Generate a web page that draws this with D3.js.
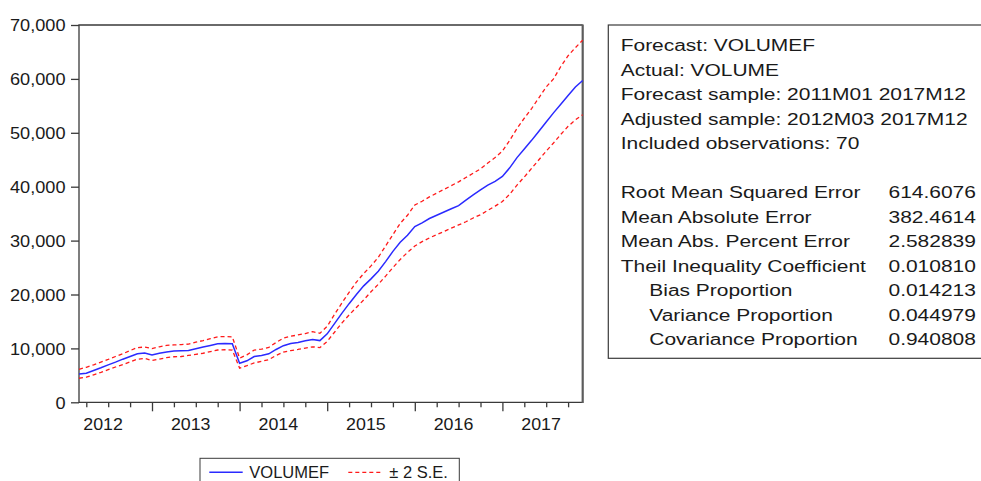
<!DOCTYPE html>
<html>
<head>
<meta charset="utf-8">
<script src="https://cdn.jsdelivr.net/npm/d3@7"></script>
<style>
  body { margin: 0; background: #fff; }
  svg { display: block; }
  text { font-family: "Liberation Sans", Arial, sans-serif; fill: #1a1a1a; }
</style>
</head>
<body>
<svg id="chart" width="981" height="481"></svg>
<script>
// Monthly forecast of VOLUME, 2012M03 .. 2017M12 (70 observations)
const forecast = [
  5250, 5400, 5900, 6400, 6950, 7450, 8000, 8500, 9000, 9150,
  8800, 9100, 9350, 9500, 9550, 9600, 9950, 10250, 10550, 10850, 10900, 10850,
  7250, 7700, 8500, 8700, 9000, 9800, 10500, 10900, 11100, 11400, 11650, 11450,
  12700, 14600, 16500, 18300, 20000, 21600, 22900, 24300, 26100, 28000, 29700, 31000,
  32600, 33300, 34100, 34700, 35300, 35900, 36500, 37500, 38500, 39400, 40300, 41000,
  41900, 43500, 45400, 47000, 48600, 50300, 52000, 53700, 55300, 56900, 58500, 59700
];
// Upper band (+2 S.E.)
const upper = [
  6130, 6500, 6950, 7450, 7950, 8500, 9000, 9600, 10150, 10250,
  9950, 10300, 10550, 10650, 10700, 10800, 11150, 11450, 11800, 12150, 12200, 12150,
  8200, 8800, 9700, 9850, 10200, 11100, 11900, 12250, 12500, 12750, 13100, 12800,
  14100, 16300, 18400, 20400, 22300, 23900, 25300, 26900, 29000, 31100, 33200, 34700,
  36600, 37300, 38100, 38800, 39500, 40200, 40900, 41700, 42500, 43300, 44400, 45400,
  46600, 48600, 50800, 52700, 54500, 56500, 58500, 60000, 62300, 64300, 65800, 67200
];
// Lower band (-2 S.E.)
const lower = [
  4460, 4650, 5100, 5550, 6050, 6550, 7000, 7500, 8000, 8150,
  7750, 8000, 8300, 8450, 8500, 8700, 8900, 9100, 9400, 9700, 9750, 9700,
  6350, 6800, 7300, 7600, 7900, 8700, 9300, 9600, 9800, 10050, 10300, 10150,
  11300, 13000, 14700, 16200, 17600, 19000, 20500, 21900, 23400, 25000, 26500, 27800,
  29000, 29800, 30500, 31100, 31700, 32300, 32900, 33500, 34200, 34800, 35600, 36400,
  37250, 38600, 40300, 41800, 43400, 45000, 46600, 48100, 49700, 51200, 52400, 53350
];

const yTicks = [0, 10000, 20000, 30000, 40000, 50000, 60000, 70000];
const years = [2012, 2013, 2014, 2015, 2016, 2017];
const legendLabels = ["VOLUMEF", "\u00B1 2 S.E."];

const headerLines = [
  "Forecast: VOLUMEF",
  "Actual: VOLUME",
  "Forecast sample: 2011M01 2017M12",
  "Adjusted sample: 2012M03 2017M12",
  "Included observations: 70"
];
const statNames = [
  "Root Mean Squared Error",
  "Mean Absolute Error",
  "Mean Abs. Percent Error",
  "Theil Inequality Coefficient",
  "Bias Proportion",
  "Variance Proportion",
  "Covariance Proportion"
];
const statValues = ["614.6076", "382.4614", "2.582839", "0.010810", "0.014213", "0.044979", "0.940808"];
const statIndented = [false, false, false, false, true, true, true];

// ---------------------------------------------------------------
const months = d3.timeMonth.range(new Date(2012, 2, 1), new Date(2018, 0, 1));
const svg = d3.select("#chart");
const plot = { left: 79, right: 582.7, top: 25, bottom: 402.3 };

const x = d3.scaleLinear().domain([0, months.length - 1]).range([plot.left, plot.right]);
const y = d3.scaleLinear().domain([0, 70000]).range([plot.bottom, plot.top]);

// Frame
svg.append("path")
  .attr("d", `M${plot.right},${plot.top}H${plot.left}V${plot.bottom}H${plot.right}`)
  .attr("fill", "none").attr("stroke", "#3a3a3a").attr("stroke-width", 1.3);
svg.append("line")
  .attr("x1", plot.right).attr("x2", plot.right)
  .attr("y1", plot.top - 0.6).attr("y2", plot.bottom + 0.6)
  .attr("stroke", "#5c5c5c").attr("stroke-width", 2.2);

// Y axis
const yAxis = svg.append("g")
  .attr("transform", `translate(${plot.left},0)`)
  .call(d3.axisLeft(y).tickValues(yTicks).tickSize(8).tickFormat(d3.format(",")));
yAxis.select(".domain").remove();
yAxis.selectAll(".tick line").attr("stroke", "#3a3a3a").attr("stroke-width", 1.3);
yAxis.selectAll(".tick text")
  .attr("x", null).attr("dy", null)
  .attr("text-anchor", "end")
  .attr("transform", "translate(-13.5,5.8) scale(1.1,1)")
  .style("font-size", "16.5px")
  .style("font-family", "'Liberation Sans', Arial, sans-serif")
  .attr("fill", "#1a1a1a");

// X axis: quarterly ticks, longer ticks at January
const idx = d3.range(months.length);
const quarterIdx = idx.filter(i => months[i].getMonth() % 3 === 0 && months[i].getMonth() !== 0);
const janIdx = idx.filter(i => months[i].getMonth() === 0);

const xMinor = svg.append("g")
  .attr("transform", `translate(0,${plot.bottom})`)
  .call(d3.axisBottom(x).tickValues(quarterIdx).tickSize(5).tickFormat(""));
const xMajor = svg.append("g")
  .attr("transform", `translate(0,${plot.bottom})`)
  .call(d3.axisBottom(x).tickValues(janIdx).tickSize(9).tickFormat(""));
[xMinor, xMajor].forEach(g => {
  g.select(".domain").remove();
  g.selectAll(".tick line").attr("stroke", "#3a3a3a").attr("stroke-width", 1.3);
});

// Year labels, centred within each year
const yearPos = yr => (yr - 2012) * 12 - 2 + 5.3;
svg.append("g").selectAll("text").data(years).join("text")
  .attr("transform", d => `translate(${x(yearPos(d))},429.5) scale(1.08,1)`)
  .attr("text-anchor", "middle")
  .style("font-size", "16.5px")
  .text(d => d);

// Series
const line = d3.line().x((d, i) => x(i)).y(d => y(d));
svg.append("path").datum(upper)
  .attr("d", line).attr("fill", "none")
  .attr("stroke", "#ff1a1a").attr("stroke-width", 1.3).attr("stroke-dasharray", "4,3");
svg.append("path").datum(lower)
  .attr("d", line).attr("fill", "none")
  .attr("stroke", "#ff1a1a").attr("stroke-width", 1.3).attr("stroke-dasharray", "4,3");
svg.append("path").datum(forecast)
  .attr("d", line).attr("fill", "none")
  .attr("stroke", "#2a2aff").attr("stroke-width", 1.5);

// Legend
const lg = svg.append("g");
lg.append("rect").attr("x", 200).attr("y", 458.3).attr("width", 259.3).attr("height", 40)
  .attr("fill", "#fff").attr("stroke", "#3a3a3a").attr("stroke-width", 1);
lg.append("line").attr("x1", 209.3).attr("x2", 242.7).attr("y1", 472.3).attr("y2", 472.3)
  .attr("stroke", "#2a2aff").attr("stroke-width", 1.4);
lg.append("line").attr("x1", 348.3).attr("x2", 382.7).attr("y1", 472.3).attr("y2", 472.3)
  .attr("stroke", "#ff1a1a").attr("stroke-width", 1.3).attr("stroke-dasharray", "4,3");
lg.selectAll("text").data(legendLabels).join("text")
  .attr("x", (d, i) => i === 0 ? 249.3 : 389.3)
  .attr("y", 477.5)
  .style("font-size", "16.5px")
  .text(d => d);

// Statistics box
const box = svg.append("g");
box.append("rect").attr("x", 608.3).attr("y", 25).attr("width", 400).attr("height", 333.3)
  .attr("fill", "#fff").attr("stroke", "#3a3a3a").attr("stroke-width", 1.2);

const rowY = k => 51 + 24.5 * k;
const sx = 1.31;
box.selectAll("text.hdr").data(headerLines).join("text")
  .attr("class", "hdr")
  .attr("transform", (d, i) => `translate(620.7,${rowY(i)}) scale(${sx},1)`)
  .style("font-size", "16px")
  .text(d => d);
box.selectAll("text.name").data(statNames).join("text")
  .attr("class", "name")
  .attr("transform", (d, i) => `translate(${statIndented[i] ? 649.3 : 620.7},${rowY(i + 6)}) scale(${sx},1)`)
  .style("font-size", "16px")
  .text(d => d);
box.selectAll("text.val").data(statValues).join("text")
  .attr("class", "val")
  .attr("transform", (d, i) => `translate(888.5,${rowY(i + 6)}) scale(${sx},1)`)
  .style("font-size", "16px")
  .text(d => d);
</script>
</body>
</html>
